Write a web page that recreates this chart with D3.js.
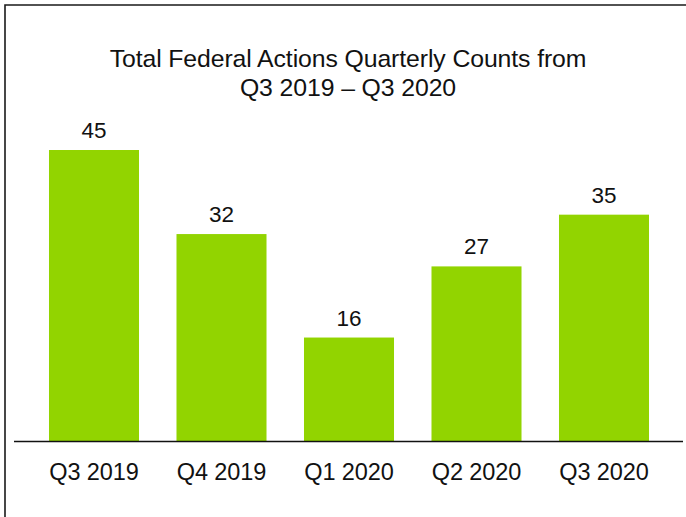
<!DOCTYPE html>
<html><head><meta charset="utf-8">
<script src="https://cdn.jsdelivr.net/npm/d3@7"></script>
<style>html,body{margin:0;padding:0;background:#fff;}svg{display:block;}</style>
</head><body>
<script>
const categories = ["Q3 2019", "Q4 2019", "Q1 2020", "Q2 2020", "Q3 2020"];
const values = [45, 32, 16, 27, 35];
const titleLines = ["Total Federal Actions Quarterly Counts from", "Q3 2019 \u2013 Q3 2020"];

const W = 686, H = 517;
const font = "'Liberation Sans', Arial, sans-serif";
const svg = d3.select("body").append("svg").attr("width", W).attr("height", H);

// frame
svg.append("path").attr("d", `M5,${H} V5 H${W}`).attr("fill", "none")
  .attr("stroke", "#1a1a1a").attr("stroke-width", 1.6);

const x = d3.scaleBand().domain(categories).range([30.25, 667.75]).paddingInner(0.294).paddingOuter(0.147);
const y = d3.scaleLinear().domain([0, 45]).range([441, 150]);

svg.selectAll("rect.bar").data(values).join("rect").attr("class", "bar")
  .attr("x", (d, i) => x(categories[i])).attr("width", x.bandwidth())
  .attr("y", d => y(d)).attr("height", d => y(0) - y(d)).attr("fill", "#92d400");

svg.selectAll("text.val").data(values).join("text").attr("class", "val")
  .attr("x", (d, i) => x(categories[i]) + x.bandwidth() / 2).attr("y", d => y(d) - 12)
  .attr("text-anchor", "middle").attr("font-family", font).attr("font-size", 22.5)
  .attr("fill", "#111").text(d => d);

svg.append("line").attr("x1", 14).attr("x2", 683).attr("y1", 441.5).attr("y2", 441.5)
  .attr("stroke", "#111").attr("stroke-width", 1.3);

const xAxis = d3.axisBottom(x).tickSize(0).tickPadding(0);
const ax = svg.append("g").attr("transform", "translate(0,441)").call(xAxis);
ax.select(".domain").remove();
ax.selectAll("text").attr("font-family", font).attr("font-size", 23.5).attr("fill", "#111")
  .attr("letter-spacing", -0.1).attr("dy", 0).attr("y", 39);

svg.selectAll("text.title").data(titleLines).join("text").attr("class", "title")
  .attr("x", 348).attr("y", (d, i) => 66.5 + i * 29).attr("text-anchor", "middle")
  .attr("font-family", font).attr("font-size", 24.8).attr("letter-spacing", -0.1)
  .attr("fill", "#111").text(d => d);
</script>
</body></html>
